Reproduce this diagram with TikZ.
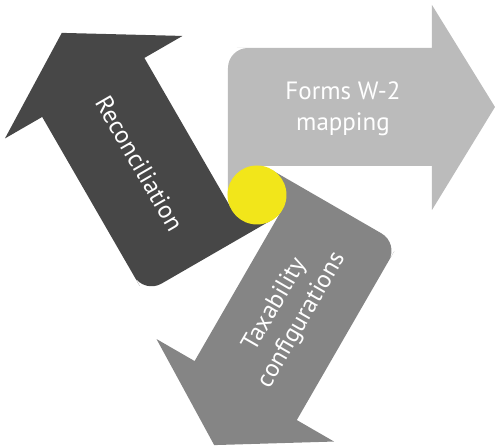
\documentclass[tikz,border=0pt]{standalone}
\usepackage{fontspec}
\setmainfont{PT Sans}
\definecolor{lightarrow}{HTML}{BBBBBB}
\definecolor{midarrow}{HTML}{858585}
\definecolor{darkarrow}{HTML}{474747}
\definecolor{hubyellow}{HTML}{F2E61A}

\begin{document}
\begin{tikzpicture}[x=0.5pt,y=0.5pt]
        \tikzstyle{arrowtext}=[text=white,align=center,font=\fontsize{12.5}{15.5}\selectfont]
  \useasboundingbox (-257,-253) rectangle (238,195);
  \foreach \ang/\col/\rot/\lbl/\name in {0/lightarrow/0/{Forms W-2\\mapping}/forms,
      120/darkarrow/-60/{Reconciliation}/recon,
      240/midarrow/60/{Taxability\\configurations}/taxab}{
    \begin{scope}[rotate=\ang]
      \fill[\col] (0,29) -- (-29,0) [rounded corners=10pt] -- (-29,147) -- (0,147)
        [sharp corners] -- (175,147) -- (175,190) -- (238,88) -- (175,-15) -- (175,29) -- cycle;
      \node[arrowtext,rotate=\rot] (\name) at (86,86) {\lbl};
    \end{scope}
  }
  \node[circle,fill=hubyellow,inner sep=0pt,minimum size=29.5pt] (hub) at (0,0) {};

\end{tikzpicture}
\end{document}
